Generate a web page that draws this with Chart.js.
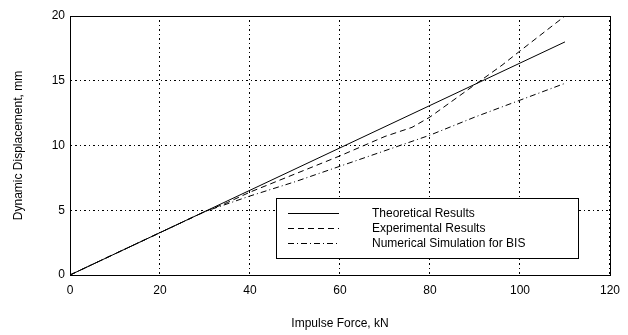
<!DOCTYPE html>
<html>
<head>
<meta charset="utf-8">
<script src="https://cdn.jsdelivr.net/npm/chart.js@4"></script>
<style>
  body { margin: 0; background: #fff; }
  #wrap { width: 628px; height: 335px; }
</style>
</head>
<body>
<div id="wrap"><canvas id="chart-displacement"></canvas></div>
<script>
// data
var theoX = [0, 110];
var theoY = [0, 18];
var expX = [0, 10, 20, 30, 35, 40, 50, 60, 70, 76, 80, 84, 90, 96, 100, 110];
var expY = [0, 1.64, 3.27, 4.9, 5.6, 6.4, 7.8, 9.2, 10.7, 11.4, 12.2, 13.2, 14.7, 16.2, 17.3, 20.0];
var simX = [0, 10, 20, 30, 40, 50, 60, 70, 80, 90, 100, 110];
var simY = [0, 1.64, 3.27, 4.9, 6.1, 7.2, 8.4, 9.6, 10.8, 12.2, 13.5, 14.8];
var seriesNames = ["Theoretical Results", "Experimental Results", "Numerical Simulation for BIS"];

function pts(xs, ys) {
    return xs.map(function (x, i) { return { x: x, y: ys[i] }; });
}

var fontFam = "'Liberation Sans', Arial, sans-serif";

// box around plot + legend inside the axes
var framePlugin = {
    id: 'frame',
    afterDatasetsDraw: function (chart) {
        var ctx = chart.ctx, a = chart.chartArea;
        ctx.save();
        ctx.strokeStyle = '#000';
        ctx.lineWidth = 1;
        ctx.setLineDash([]);
        ctx.strokeRect(Math.round(a.left) + 0.5, Math.round(a.top) + 0.5,
            Math.round(a.right - a.left), Math.round(a.bottom - a.top));

        // legend box
        var bx = 276, by = 198, bw = 302, bh = 60;
        ctx.fillStyle = '#fff';
        ctx.fillRect(bx, by, bw, bh);
        ctx.strokeRect(bx + 0.5, by + 0.5, bw, bh);
        ctx.font = '12px ' + fontFam;
        ctx.fillStyle = '#000';
        ctx.textBaseline = 'middle';
        chart.data.datasets.forEach(function (ds, i) {
            var yy = 213 + i * 15 + 0.5;
            ctx.setLineDash(ds.borderDash || []);
            ctx.beginPath();
            ctx.moveTo(288, yy);
            ctx.lineTo(339, yy);
            ctx.stroke();
            ctx.setLineDash([]);
            ctx.fillText(ds.label, 372, yy);
        });
        ctx.restore();
    }
};

var ctxD = document.getElementById("chart-displacement").getContext('2d');
var myChart = new Chart(ctxD, {
    type: 'line',
    data: {
        datasets: [{
            label: seriesNames[0],
            data: pts(theoX, theoY),
            borderColor: '#000',
            borderWidth: 1,
            pointRadius: 0
        }, {
            label: seriesNames[1],
            data: pts(expX, expY),
            borderColor: '#000',
            borderWidth: 1,
            borderDash: [6, 4],
            pointRadius: 0
        }, {
            label: seriesNames[2],
            data: pts(simX, simY),
            borderColor: '#000',
            borderWidth: 1,
            borderDash: [6, 3, 1, 3],
            pointRadius: 0
        }]
    },
    options: {
        responsive: true,
        maintainAspectRatio: false,
        animation: false,
        layout: { padding: { left: 0, right: 12, top: 16, bottom: 0 } },
        plugins: {
            legend: { display: false },
            tooltip: { enabled: false }
        },
        scales: {
            x: {
                type: 'linear',
                min: 0,
                max: 120,
                ticks: { stepSize: 20, color: '#000', font: { family: fontFam, size: 12 }, padding: 8 },
                grid: { color: '#000', lineWidth: 1, tickLength: 0 },
                border: { display: true, color: '#000', width: 1, dash: [1, 3, 2, 3] },
                title: { display: true, text: 'Impulse Force, kN', color: '#000', font: { family: fontFam, size: 12 }, padding: { top: 4, bottom: 4 } },
                afterFit: function (s) { s.height = 60; }
            },
            y: {
                min: 0,
                max: 20,
                ticks: { stepSize: 5, color: '#000', font: { family: fontFam, size: 12 }, padding: 5 },
                grid: { color: '#000', lineWidth: 1, tickLength: 0 },
                border: { display: true, color: '#000', width: 1, dash: [1, 3, 2, 3] },
                title: { display: true, text: 'Dynamic Displacement, mm', color: '#000', font: { family: fontFam, size: 12 }, padding: { top: 11, bottom: 4 } },
                afterFit: function (s) { s.width = 70; }
            }
        }
    },
    plugins: [framePlugin]
});
</script>
</body>
</html>
